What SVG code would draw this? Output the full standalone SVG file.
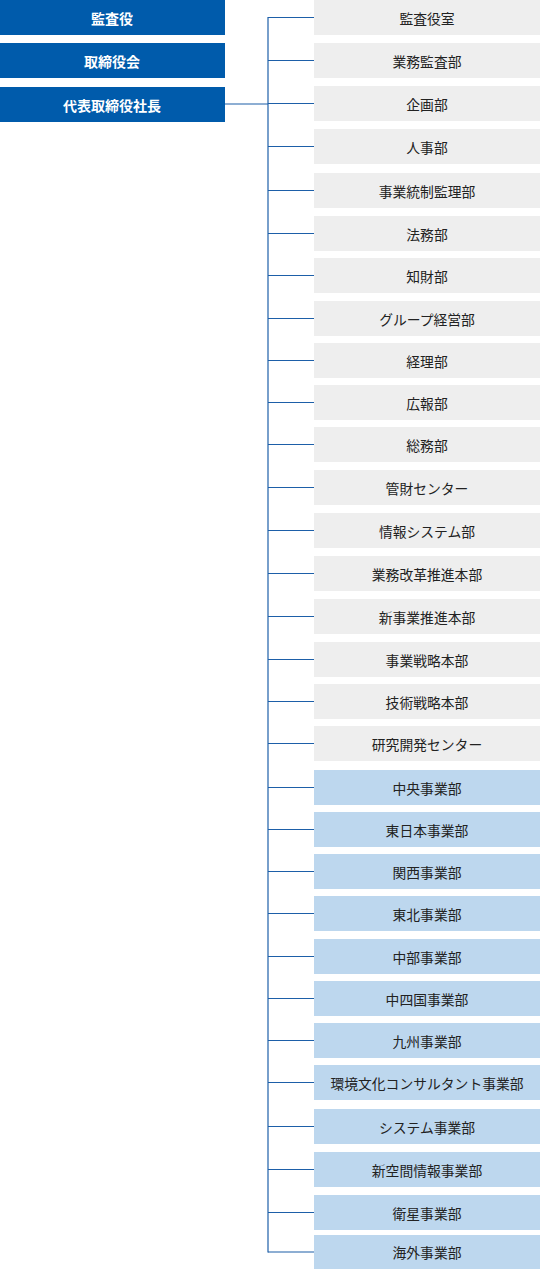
<svg xmlns="http://www.w3.org/2000/svg" width="540" height="1269" viewBox="0 0 540 1269">
<style>
.top rect{fill:#005bab}
.top text{fill:#ffffff;font-family:"Noto Sans CJK JP","Noto Sans",sans-serif;font-size:14px;font-weight:bold;text-anchor:middle;dominant-baseline:central}
.g rect{fill:#eeeeee}
.b rect{fill:#bdd7ee}
.g text,.b text{fill:#222222;font-family:"Noto Sans CJK JP","Noto Sans",sans-serif;font-size:13.8px;text-anchor:middle;dominant-baseline:central}
.conn line{stroke:#1d5fa8;stroke-width:1.2;fill:none}
</style>
<rect width="540" height="1269" fill="#ffffff"/>
<g id="n-kansayaku" class="top"><rect x="0" y="0" width="225" height="35"/><text x="112" y="17.5">監査役</text></g>
<g id="n-torishimariyakukai" class="top"><rect x="0" y="43" width="225" height="35"/><text x="112" y="60.5">取締役会</text></g>
<g id="n-shacho" class="top"><rect x="0" y="87" width="225" height="35"/><text x="112" y="104.5">代表取締役社長</text></g>
<g id="connectors" class="conn">
<line x1="225" y1="104" x2="268" y2="104"/>
<line x1="268" y1="17" x2="268" y2="1252.5"/>
<line x1="268" y1="17.5" x2="314" y2="17.5"/>
<line x1="268" y1="60.5" x2="314" y2="60.5"/>
<line x1="268" y1="103.5" x2="314" y2="103.5"/>
<line x1="268" y1="146.5" x2="314" y2="146.5"/>
<line x1="268" y1="190.5" x2="314" y2="190.5"/>
<line x1="268" y1="233.5" x2="314" y2="233.5"/>
<line x1="268" y1="275.5" x2="314" y2="275.5"/>
<line x1="268" y1="318.5" x2="314" y2="318.5"/>
<line x1="268" y1="360.5" x2="314" y2="360.5"/>
<line x1="268" y1="402.5" x2="314" y2="402.5"/>
<line x1="268" y1="444.5" x2="314" y2="444.5"/>
<line x1="268" y1="487.5" x2="314" y2="487.5"/>
<line x1="268" y1="530.5" x2="314" y2="530.5"/>
<line x1="268" y1="573.5" x2="314" y2="573.5"/>
<line x1="268" y1="616.5" x2="314" y2="616.5"/>
<line x1="268" y1="659.5" x2="314" y2="659.5"/>
<line x1="268" y1="701.5" x2="314" y2="701.5"/>
<line x1="268" y1="743.5" x2="314" y2="743.5"/>
<line x1="268" y1="787.5" x2="314" y2="787.5"/>
<line x1="268" y1="829.5" x2="314" y2="829.5"/>
<line x1="268" y1="871.5" x2="314" y2="871.5"/>
<line x1="268" y1="913.5" x2="314" y2="913.5"/>
<line x1="268" y1="956.5" x2="314" y2="956.5"/>
<line x1="268" y1="998.5" x2="314" y2="998.5"/>
<line x1="268" y1="1040.5" x2="314" y2="1040.5"/>
<line x1="268" y1="1082.5" x2="314" y2="1082.5"/>
<line x1="268" y1="1126.5" x2="314" y2="1126.5"/>
<line x1="268" y1="1169.5" x2="314" y2="1169.5"/>
<line x1="268" y1="1212.5" x2="314" y2="1212.5"/>
<line x1="268" y1="1252" x2="314" y2="1252"/>
</g>
<g id="d01" class="g"><rect x="314" y="0" width="226" height="35"/><text x="427" y="17.5">監査役室</text></g>
<g id="d02" class="g"><rect x="314" y="43" width="226" height="35"/><text x="427" y="60.5">業務監査部</text></g>
<g id="d03" class="g"><rect x="314" y="86" width="226" height="35"/><text x="427" y="103.5">企画部</text></g>
<g id="d04" class="g"><rect x="314" y="129" width="226" height="35"/><text x="427" y="146.5">人事部</text></g>
<g id="d05" class="g"><rect x="314" y="173" width="226" height="35"/><text x="427" y="190.5">事業統制監理部</text></g>
<g id="d06" class="g"><rect x="314" y="216" width="226" height="35"/><text x="427" y="233.5">法務部</text></g>
<g id="d07" class="g"><rect x="314" y="258" width="226" height="35"/><text x="427" y="275.5">知財部</text></g>
<g id="d08" class="g"><rect x="314" y="301" width="226" height="35"/><text x="427" y="318.5">グループ経営部</text></g>
<g id="d09" class="g"><rect x="314" y="343" width="226" height="35"/><text x="427" y="360.5">経理部</text></g>
<g id="d10" class="g"><rect x="314" y="385" width="226" height="35"/><text x="427" y="402.5">広報部</text></g>
<g id="d11" class="g"><rect x="314" y="427" width="226" height="35"/><text x="427" y="444.5">総務部</text></g>
<g id="d12" class="g"><rect x="314" y="470" width="226" height="35"/><text x="427" y="487.5">管財センター</text></g>
<g id="d13" class="g"><rect x="314" y="513" width="226" height="35"/><text x="427" y="530.5">情報システム部</text></g>
<g id="d14" class="g"><rect x="314" y="556" width="226" height="35"/><text x="427" y="573.5">業務改革推進本部</text></g>
<g id="d15" class="g"><rect x="314" y="599" width="226" height="35"/><text x="427" y="616.5">新事業推進本部</text></g>
<g id="d16" class="g"><rect x="314" y="642" width="226" height="35"/><text x="427" y="659.5">事業戦略本部</text></g>
<g id="d17" class="g"><rect x="314" y="684" width="226" height="35"/><text x="427" y="701.5">技術戦略本部</text></g>
<g id="d18" class="g"><rect x="314" y="726" width="226" height="35"/><text x="427" y="743.5">研究開発センター</text></g>
<g id="d19" class="b"><rect x="314" y="770" width="226" height="35"/><text x="427" y="787.5">中央事業部</text></g>
<g id="d20" class="b"><rect x="314" y="812" width="226" height="35"/><text x="427" y="829.5">東日本事業部</text></g>
<g id="d21" class="b"><rect x="314" y="854" width="226" height="35"/><text x="427" y="871.5">関西事業部</text></g>
<g id="d22" class="b"><rect x="314" y="896" width="226" height="35"/><text x="427" y="913.5">東北事業部</text></g>
<g id="d23" class="b"><rect x="314" y="939" width="226" height="35"/><text x="427" y="956.5">中部事業部</text></g>
<g id="d24" class="b"><rect x="314" y="981" width="226" height="35"/><text x="427" y="998.5">中四国事業部</text></g>
<g id="d25" class="b"><rect x="314" y="1023" width="226" height="35"/><text x="427" y="1040.5">九州事業部</text></g>
<g id="d26" class="b"><rect x="314" y="1065" width="226" height="35"/><text x="427" y="1082.5">環境文化コンサルタント事業部</text></g>
<g id="d27" class="b"><rect x="314" y="1109" width="226" height="35"/><text x="427" y="1126.5">システム事業部</text></g>
<g id="d28" class="b"><rect x="314" y="1152" width="226" height="35"/><text x="427" y="1169.5">新空間情報事業部</text></g>
<g id="d29" class="b"><rect x="314" y="1195" width="226" height="35"/><text x="427" y="1212.5">衛星事業部</text></g>
<g id="d30" class="b"><rect x="314" y="1235" width="226" height="34"/><text x="427" y="1252">海外事業部</text></g>
</svg>
